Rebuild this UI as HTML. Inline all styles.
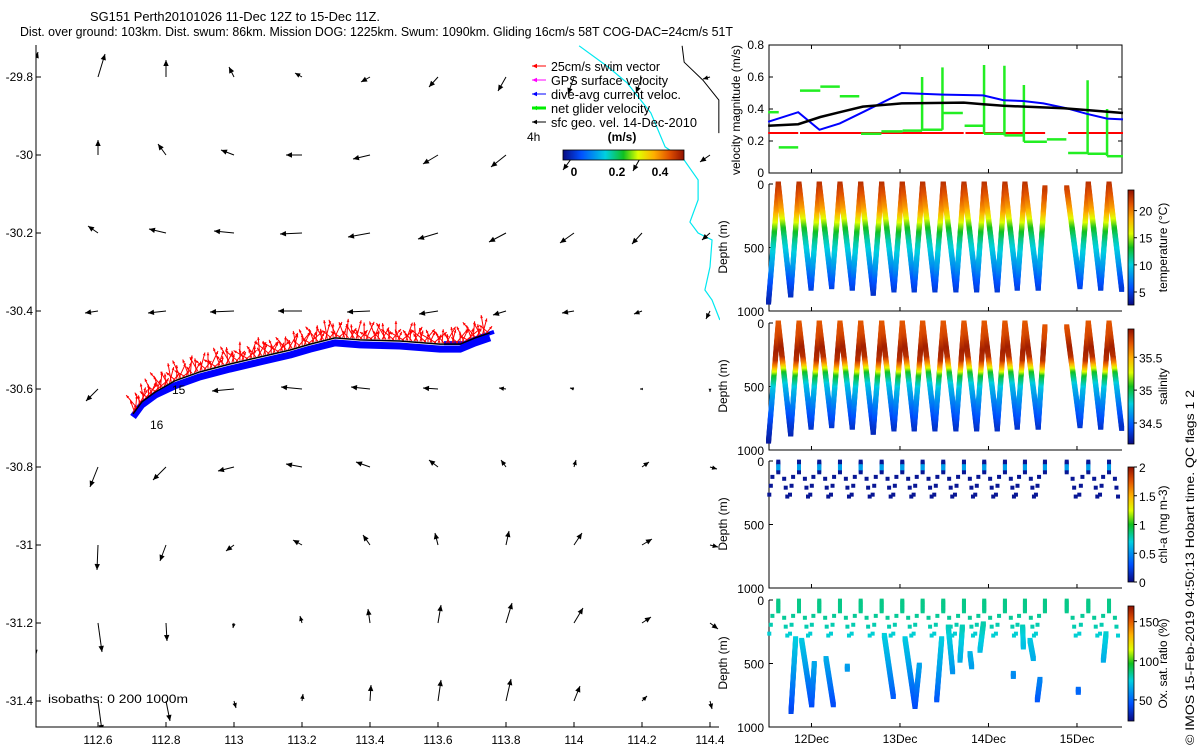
<!DOCTYPE html>
<html><head><meta charset="utf-8"><style>
html,body{margin:0;padding:0;background:#fff;}
svg{display:block;font-family:"Liberation Sans",sans-serif;}
</style></head><body>
<svg id="fig" width="1200" height="750" viewBox="0 0 1200 750">
<defs>
<clipPath id="mapclip"><rect x="36" y="45" width="684" height="682"/></clipPath>
<linearGradient id="cbh" x1="0" x2="1" y1="0" y2="0">
<stop offset="0" stop-color="#0a0a80"/><stop offset="0.15" stop-color="#0050ff"/><stop offset="0.35" stop-color="#00d0e0"/><stop offset="0.5" stop-color="#10c020"/><stop offset="0.62" stop-color="#e0ff00"/><stop offset="0.75" stop-color="#ffb000"/><stop offset="0.88" stop-color="#e05000"/><stop offset="1" stop-color="#901000"/>
</linearGradient>
<linearGradient id="cbv" x1="0" x2="0" y1="1" y2="0">
<stop offset="0" stop-color="#0a0a80"/><stop offset="0.15" stop-color="#0050ff"/><stop offset="0.35" stop-color="#00d0e0"/><stop offset="0.5" stop-color="#10c020"/><stop offset="0.62" stop-color="#e0ff00"/><stop offset="0.75" stop-color="#ffb000"/><stop offset="0.88" stop-color="#e05000"/><stop offset="1" stop-color="#901000"/>
</linearGradient>
</defs>
<text x="235" y="21" font-size="13" text-anchor="middle" textLength="290" lengthAdjust="spacingAndGlyphs">SG151 Perth20101026 11-Dec 12Z to 15-Dec 11Z.</text>
<text x="20" y="36" font-size="13" textLength="713" lengthAdjust="spacingAndGlyphs">Dist. over ground: 103km. Dist. swum: 86km. Mission DOG: 1225km. Swum: 1090km. Gliding 16cm/s 58T COG-DAC=24cm/s 51T</text>
<g id="map"></g>
<g id="right"></g>
<text transform="translate(1194,745) rotate(-90)" font-size="12" textLength="355" lengthAdjust="spacingAndGlyphs">© IMOS 15-Feb-2019 04:50:13 Hobart time. QC flags 1  2</text>
</svg>
<script>
// ---------- MAP DATA ----------
const gridLon=[112.4,112.6,112.8,113.0,113.2,113.4,113.6,113.8,114.0,114.2,114.4];
const gridLat=[-29.8,-30.0,-30.2,-30.4,-30.6,-30.8,-31.0,-31.2,-31.4];
const geoU=[
[8,7,0,-5,-7,-9,-9,-8,-6,-6,-7],
[4,0,-8,-13,-16,-17,-15,-15,-11,-9,-10],
[0,-10,-17,-20,-22,-22,-20,-17,-14,-10,-8],
[0,-13,-18,-24,-24,-23,-19,-13,-12,-8,-4],
[0,-12,-10,-22,-21,-19,-15,-7,-4,-2,0],
[0,-8,-13,-16,-16,-14,-9,-5,2,7,7],
[4,-1,-6,-8,-9,-7,-3,3,8,10,8],
[6,4,1,-1,-2,-2,3,6,9,9,8],
[3,4,4,2,1,1,3,5,6,5,2]];
const geoV=[
[25,23,17,10,4,-5,-10,-14,-17,-16,-2],
[12,15,11,5,0,-4,-9,-12,-15,-16,-7],
[0,7,4,2,-1,-4,-6,-9,-10,-11,-7],
[0,-2,-2,-1,0,-1,-3,-4,-2,-3,-8],
[0,-12,-4,-2,2,2,1,1,1,0,-3],
[0,-20,-13,-4,3,5,7,7,7,5,-2],
[-28,-25,-16,-6,5,10,12,14,12,6,-2],
[-33,-29,-18,-5,7,14,18,20,15,6,-6],
[-30,-30,-20,-7,7,16,21,22,15,5,-8]];
const trackLon=[112.703,112.729,112.768,112.826,112.9,112.988,113.076,113.165,113.224,113.297,113.371,113.488,113.606,113.665,113.709,113.753];
const trackLat=[-30.664,-30.633,-30.608,-30.579,-30.556,-30.536,-30.518,-30.5,-30.485,-30.469,-30.474,-30.477,-30.485,-30.485,-30.469,-30.456];
const swimAngle=[-70,-110,-85,-130,-60,-95,-120,-75,-100,-50,-140,-90,-65,-115,-40,-150];
const coastLon=[114.015,114.1,114.156,114.226,114.268,114.324,114.365,114.365,114.341,114.365,114.406,114.4,114.385,114.406,114.429];
const coastLat=[-29.72,-29.774,-29.815,-29.892,-29.979,-30.013,-30.064,-30.115,-30.172,-30.2,-30.218,-30.287,-30.346,-30.372,-30.423];
const isoLon=[114.318,114.324,114.379,114.426,114.426];
const isoLat=[-29.72,-29.762,-29.808,-29.859,-29.944];
const mapXTicks=[112.6,112.8,113,113.2,113.4,113.6,113.8,114,114.2,114.4];
const mapYTicks=[-29.8,-30,-30.2,-30.4,-30.6,-30.8,-31,-31.2,-31.4];

// ---------- TIME SERIES DATA ----------
const blueT=[11.51,11.85,12.09,12.32,12.58,13.02,13.49,13.94,14.17,14.39,14.62,14.88,15.11,15.34,15.52];
const blueV=[0.32,0.38,0.27,0.31,0.38,0.5,0.49,0.485,0.455,0.45,0.435,0.405,0.37,0.34,0.335];
const blackT=[11.51,11.85,12.1,12.32,12.58,13.02,13.72,13.94,14.17,14.85,15.19,15.52];
const blackV=[0.295,0.305,0.35,0.38,0.415,0.435,0.44,0.43,0.42,0.405,0.39,0.375];
const redT0=[11.51,11.87,13.74,14.9];
const redT1=[11.85,13.72,14.64,15.52];
const redV=0.25;
const greenT0=[11.51,11.63,11.87,12.1,12.32,12.56,12.79,13.03,13.25,13.48,13.73,13.95,14.18,14.4,14.66,14.9,15.12,15.34];
const greenT1=[11.63,11.85,12.1,12.32,12.54,12.79,13.03,13.25,13.48,13.71,13.95,14.18,14.4,14.66,14.88,15.12,15.34,15.52];
const greenV=[0.38,0.16,0.515,0.54,0.48,0.245,0.26,0.265,0.27,0.375,0.295,0.245,0.235,0.195,0.21,0.125,0.12,0.105];
const spikeT=[13.25,13.48,13.95,14.18,14.4,15.12,15.34];
const spikeTop=[0.6,0.66,0.675,0.67,0.55,0.58,0.4];
const spikeBot=[0.265,0.27,0.245,0.235,0.195,0.12,0.105];
const profT=[11.515,11.625,11.765,11.859,11.995,12.088,12.228,12.322,12.461,12.556,12.698,12.793,12.932,13.026,13.161,13.256,13.395,13.489,13.632,13.723,13.866,13.952,14.099,14.186,14.325,14.412,14.562,14.638,14.884,15.034,15.128,15.268,15.362,15.505];
const profD=[930,0,874,0,820,0,808,0,820,0,860,0,834,0,834,0,834,0,834,0,834,0,834,0,820,0,820,30,30,808,0,820,0,830];
const tempDepth=[0,100,200,280,350,450,550,650,750,850,950];
const tempVal=[22.5,21,19,16,13.5,11,9.5,8,6,4.5,3.5];
const salDepth=[0,100,200,280,330,400,500,650,800,950];
const salVal=[35.7,35.75,35.88,35.82,35.55,35.05,34.75,34.55,34.35,34.22];
const oxDepth=[0,100,200,300,500,700,850];
const oxVal=[85,84,80,74,65,52,42];
const oxSegT0=[11.769,11.889,12.002,12.164,12.823,13.057,13.17,13.415,13.546,13.678,13.791,13.904,14.386,14.469,14.552,15.298];
const oxSegD0=[878,318,825,461,279,305,838,786,213,474,422,396,213,318,786,474];
const oxSegT1=[11.821,12.002,12.032,12.247,12.925,13.17,13.219,13.471,13.595,13.705,13.81,13.942,14.394,14.507,14.582,15.328];
const oxSegD1=[305,825,500,825,760,838,513,305,565,213,526,188,370,461,625,266];
const oxIsoT=[12.405,14.281,15.015];
const oxIsoD=[521,578,703];
const timeTicks=[12,13,14,15];
const timeTickLabels=["12Dec","13Dec","14Dec","15Dec"];

// ---------- helpers ----------
const NS="http://www.w3.org/2000/svg";
function mk(tag,attrs,parent){const e=document.createElementNS(NS,tag);for(const k in attrs)e.setAttribute(k,attrs[k]);parent.appendChild(e);return e;}
const stops=[[0,[10,10,128]],[0.15,[0,80,255]],[0.35,[0,208,224]],[0.5,[16,192,32]],[0.62,[224,255,0]],[0.75,[255,176,0]],[0.88,[224,80,0]],[1,[144,16,0]]];
function cmap(f){f=Math.max(0,Math.min(1,f));for(let i=1;i<stops.length;i++){if(f<=stops[i][0]){const a=stops[i-1],b=stops[i];const r=(f-a[0])/(b[0]-a[0]);const c=a[1].map((v,j)=>Math.round(v+(b[1][j]-v)*r));return `rgb(${c[0]},${c[1]},${c[2]})`;}}return "rgb(144,16,0)";}
function interp(xs,ys,x){if(x<=xs[0])return ys[0];for(let i=1;i<xs.length;i++){if(x<=xs[i]){return ys[i-1]+(ys[i]-ys[i-1])*(x-xs[i-1])/(xs[i]-xs[i-1]);}}return ys[ys.length-1];}

// ---------- MAP ----------
const map=document.getElementById('map');
const lonX=lon=>234+(lon-113)*340;
const latY=lat=>77+(-29.8-lat)*390;
const clipG=mk('g',{'clip-path':'url(#mapclip)'},map);


const coast=mk('polyline',{points:coastLon.map((l,i)=>lonX(l)+','+latY(coastLat[i])).join(' '),fill:'none',stroke:'#00e8f0','stroke-width':1.2},clipG);


const iso=mk('polyline',{points:isoLon.map((l,i)=>lonX(l)+','+latY(isoLat[i])).join(' '),fill:'none',stroke:'#000','stroke-width':1},clipG);


function arrow(g,x0,y0,x1,y1,col,w,hs){
  const dx=x1-x0,dy=y1-y0,L=Math.hypot(dx,dy);if(L<0.5)return;
  const ux=dx/L,uy=dy/L;
  mk('line',{x1:x0,y1:y0,x2:x1,y2:y1,stroke:col,'stroke-width':w},g);
  const bx=x1-ux*hs,by=y1-uy*hs;
  mk('polygon',{points:`${x1},${y1} ${bx-uy*hs*0.45},${by+ux*hs*0.45} ${bx+uy*hs*0.45},${by-ux*hs*0.45}`,fill:col},g);
}
for(let r=0;r<gridLat.length;r++){for(let c=0;c<gridLon.length;c++){
  const u=geoU[r][c],v=geoV[r][c];if(u===0&&v===0)continue;
  const g=mk('g',{},clipG);
  
  
  const x0=lonX(gridLon[c]),y0=latY(gridLat[r]);
  arrow(g,x0,y0,x0+u,y0-v,'#000',1,Math.min(6,Math.hypot(u,v)*0.4+2));
}}
const tg=mk('g',{},clipG);


const tp=trackLon.map((l,i)=>[lonX(l),latY(trackLat[i])]);
const swath=mk('polyline',{points:tp.map((p,i)=>p[0]+','+(p[1]+(i<3?3:5))).join(' '),fill:'none',stroke:'#0000ff','stroke-width':7,'stroke-linejoin':'round'},tg);


const swath2=mk('polyline',{points:tp.slice(12).map(p=>(p[0]+4)+','+(p[1]-1)).join(' '),fill:'none',stroke:'#0000ff','stroke-width':4},tg);


const rg=mk('g',{},tg);


let k=0;
for(let i=1;i<tp.length;i++){
  const [xa,ya]=tp[i-1],[xb,yb]=tp[i];const n=Math.max(1,Math.round(Math.hypot(xb-xa,yb-ya)/2));
  for(let j=0;j<n;j++){const f=j/n;const x=xa+(xb-xa)*f,y=ya+(yb-ya)*f-1;
    const a=swimAngle[k%swimAngle.length]*Math.PI/180;const len=9+(k%5)*2.5;k++;
    arrow(rg,x,y,x+Math.cos(a)*len,y+Math.sin(a)*len,'#ff0000',1,3);}
}
const tl=mk('polyline',{points:tp.map(p=>p[0]+','+p[1]).join(' '),fill:'none',stroke:'#000','stroke-width':1.5},tg);


const l15=mk('text',{x:172,y:394,'font-size':12},map);l15.textContent='15';


const l16=mk('text',{x:150,y:429,'font-size':12},map);l16.textContent='16';


const ax=mk('path',{d:'M36,45 V727 H719',fill:'none',stroke:'#000','stroke-width':1},map);


mapXTicks.forEach(v=>{const x=lonX(v);mk('line',{x1:x,x2:x,y1:727,y2:722,stroke:'#000'},map);
  const t=mk('text',{x:x,y:744,'font-size':12,'text-anchor':'middle'},map);t.textContent=String(v);
  
  });
mapYTicks.forEach(v=>{const y=latY(v);mk('line',{x1:36,x2:41,y1:y,y2:y,stroke:'#000'},map);
  const t=mk('text',{x:33,y:y+4,'font-size':12,'text-anchor':'end'},map);t.textContent=String(v);
  
  });
const isoT=mk('text',{x:48,y:703,'font-size':12,textLength:140,lengthAdjust:'spacingAndGlyphs'},map);isoT.textContent='isobaths: 0   200  1000m';


const lg=mk('g',{},map);


const legTxt=['25cm/s swim vector','GPS surface velocity','dive-avg current veloc.','net glider velocity','sfc geo. vel. 14-Dec-2010'];
const legCol=['#ff0000','#ff00ff','#0000ff','#00ee00','#000000'];
const legW=[109,117,130,99,146];
legTxt.forEach((s,i)=>{const y=66+i*14;
  const e=mk('g',{},lg);
  
  
  arrow(e,546,y,532,y,legCol[i],i===3?3:1,5);
  const t=mk('text',{x:551,y:y+5,'font-size':13,textLength:legW[i],lengthAdjust:'spacingAndGlyphs'},e);t.textContent=s;});
const h4=mk('text',{x:527,y:141,'font-size':12},lg);h4.textContent='4h';


const ms=mk('text',{x:622,y:141,'font-size':12,'font-weight':'bold','text-anchor':'middle'},lg);ms.textContent='(m/s)';


const cbh=mk('rect',{x:563,y:150,width:121,height:10,fill:'url(#cbh)',stroke:'#000','stroke-width':0.8},lg);


[['0',574],['0.2',617],['0.4',660]].forEach(p=>{const t=mk('text',{x:p[1],y:176,'font-size':12,'font-weight':'bold','text-anchor':'middle'},lg);t.textContent=p[0];
  
  });

// ---------- RIGHT PANELS ----------
const right=document.getElementById('right');
const X0=769,X1=1122;
const tx=t=>X0+(t-11.52)*88.5;
const p1=mk('g',{},right);


const vy=v=>173-v/0.8*128;
const box=mk('rect',{x:X0,y:45,width:X1-X0,height:128,fill:'none',stroke:'#000'},p1);


[0,0.2,0.4,0.6,0.8].forEach(v=>{const y=vy(v);mk('line',{x1:X0,x2:X0+4,y1:y,y2:y,stroke:'#000'},p1);mk('line',{x1:X1-4,x2:X1,y1:y,y2:y,stroke:'#000'},p1);
  const t=mk('text',{x:764,y:y+4,'font-size':12,'text-anchor':'end'},p1);t.textContent=String(v);
  
  });
timeTicks.forEach(v=>{const x=tx(v);mk('line',{x1:x,x2:x,y1:173,y2:169,stroke:'#000'},p1);mk('line',{x1:x,x2:x,y1:45,y2:49,stroke:'#000'},p1);});
const vl=mk('text',{transform:'translate(740,110) rotate(-90)','font-size':12,'text-anchor':'middle'},p1);vl.textContent='velocity magnitude (m/s)';


for(let i=0;i<redT0.length;i++){const l=mk('line',{x1:tx(redT0[i]),x2:tx(redT1[i]),y1:vy(redV),y2:vy(redV),stroke:'#ff0000','stroke-width':2},p1);
  
  }
for(let i=0;i<greenT0.length;i++){const l=mk('line',{x1:tx(greenT0[i]),x2:tx(greenT1[i]),y1:vy(greenV[i]),y2:vy(greenV[i]),stroke:'#22ee22','stroke-width':2.5},p1);
  
  }
for(let i=0;i<spikeT.length;i++){const l=mk('line',{x1:tx(spikeT[i]),x2:tx(spikeT[i]),y1:vy(spikeTop[i]),y2:vy(spikeBot[i]),stroke:'#22ee22','stroke-width':2.5},p1);
  
  }
const bl=mk('polyline',{points:blueT.map((t,i)=>tx(t)+','+vy(blueV[i])).join(' '),fill:'none',stroke:'#0000ff','stroke-width':2},p1);


const bk=mk('polyline',{points:blackT.map((t,i)=>tx(t)+','+vy(blackV[i])).join(' '),fill:'none',stroke:'#000','stroke-width':2.5},p1);



const tops=[184,323,461,600];
function depthAxes(g,top,name,last){
  const dy=d=>top+d/1000*127;
  const a=mk('path',{d:`M${X0},${top} V${top+127} H${X1}`,fill:'none',stroke:'#000'},g);
  
  
  [0,500,1000].forEach(v=>{const y=dy(v);mk('line',{x1:X0,x2:X0+4,y1:y,y2:y,stroke:'#000'},g);
    const t=mk('text',{x:764,y:y+5,'font-size':12,'text-anchor':'end'},g);t.textContent=String(v);
    
    });
  timeTicks.forEach((v,i)=>{const x=tx(v);mk('line',{x1:x,x2:x,y1:top+127,y2:top+123,stroke:'#000'},g);
    if(last){const t=mk('text',{x:x,y:top+143,'font-size':12,'text-anchor':'middle'},g);t.textContent=timeTickLabels[i];
      
      }});
  const yl=mk('text',{transform:`translate(727,${top+63}) rotate(-90)`,'font-size':12,'text-anchor':'middle'},g);yl.textContent='Depth (m)';
  
  
  return dy;
}
function colorbar(g,top,vmin,vmax,ticks,label,name){
  const y0=top+6,h=115;
  const r=mk('rect',{x:1128,y:y0,width:6,height:h,fill:'url(#cbv)',stroke:'#000','stroke-width':0.8},g);
  
  
  ticks.forEach(v=>{const y=y0+h-(v-vmin)/(vmax-vmin)*h;mk('line',{x1:1134,x2:1137,y1:y,y2:y,stroke:'#000'},g);
    const t=mk('text',{x:1139,y:y+5,'font-size':12},g);t.textContent=String(v);
    
    });
  const t=mk('text',{transform:`translate(1167,${y0+h/2}) rotate(-90)`,'font-size':12,'text-anchor':'middle'},g);t.textContent=label;
  
  
}
function marker(g,x,y,col,s){mk('rect',{x:x-s/2,y:y-s/2,width:s,height:s,fill:col},g);}
function profilePanel(g,dy,dTab,vTab,vmin,vmax){
  for(let i=1;i<profT.length;i++){
    if(profT[i]-profT[i-1]>0.2)continue;
    const d0=profD[i-1],d1=profD[i];const n=Math.max(2,Math.round(Math.abs(d1-d0)/9));
    for(let j=0;j<=n;j++){const f=j/n;const d=d0+(d1-d0)*f;const t=profT[i-1]+(profT[i]-profT[i-1])*f;
      marker(g,tx(t),dy(d),cmap((interp(dTab,vTab,d)-vmin)/(vmax-vmin)),5);}
  }
}
const g2=mk('g',{},right);


const dy2=depthAxes(g2,tops[0],'temperature',false);
profilePanel(g2,dy2,tempDepth,tempVal,2.6,23.8);
colorbar(g2,tops[0],2.6,23.8,[5,10,15,20],'temperature (°C)','temperature');
const g3=mk('g',{},right);


const dy3=depthAxes(g3,tops[1],'salinity',false);
profilePanel(g3,dy3,salDepth,salVal,34.18,35.93);
colorbar(g3,tops[1],34.18,35.93,[34.5,35,35.5],'salinity','salinity');
function surfaceDots(g,dy,valFn,vmin,vmax){
  for(let i=0;i<profT.length;i++){
    if(profD[i]>40)continue;
    const x=tx(profT[i]);
    for(let d=5;d<=95;d+=12){marker(g,x,dy(d),cmap((valFn(d)-vmin)/(vmax-vmin)),4);}
    [-1,1].forEach(s=>{const jn=i+s;if(jn<0||jn>=profT.length||Math.abs(profT[jn]-profT[i])>0.2)return;
      [130,200,270].forEach((d,m)=>{
        marker(g,x+s*(3+d/45),dy(d+(s>0?10:-5)),cmap((valFn(d)-vmin)/(vmax-vmin)),4);});});
  }
}
const g4=mk('g',{},right);


const dy4=depthAxes(g4,tops[2],'chl-a',false);
surfaceDots(g4,dy4,d=>(d>35&&d<80)?0.55:0.05,0,2);
colorbar(g4,tops[2],0,2,[0,0.5,1,1.5,2],'chl-a (mg m-3)','chl-a');
const g5=mk('g',{},right);


const dy5=depthAxes(g5,tops[3],'oxygen',true);
const oxF=d=>interp(oxDepth,oxVal,d);
surfaceDots(g5,dy5,oxF,23,170);
for(let i=0;i<oxSegT0.length;i++){const n=Math.max(2,Math.round(Math.abs(oxSegD1[i]-oxSegD0[i])/9));
  for(let j=0;j<=n;j++){const f=j/n;const d=oxSegD0[i]+(oxSegD1[i]-oxSegD0[i])*f;const t=oxSegT0[i]+(oxSegT1[i]-oxSegT0[i])*f;
    marker(g5,tx(t),dy5(d),cmap((oxF(d)-23)/147),5);}}
for(let i=0;i<oxIsoT.length;i++){for(let j=0;j<3;j++){const d=oxIsoD[i]+j*12;marker(g5,tx(oxIsoT[i]),dy5(d),cmap((oxF(d)-23)/147),5);}}
colorbar(g5,tops[3],23,170,[50,100,150],'Ox. sat. ratio (%)','oxygen');
</script>
</body></html>
